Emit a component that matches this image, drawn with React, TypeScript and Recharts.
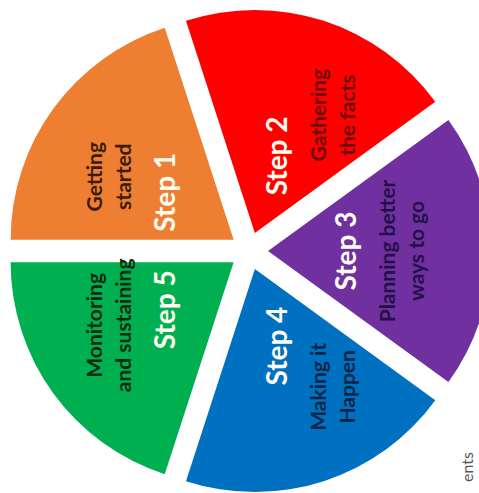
import { Cell, Pie, PieChart, Sector } from "recharts";

const steps = ["Step 1", "Step 2", "Step 3", "Step 4", "Step 5"];
const descriptions = [
  ["Getting", "started"],
  ["Gathering", "the facts"],
  ["Planning better", "ways to go"],
  ["Making it", "Happen"],
  ["Monitoring", "and sustaining"],
];
const shares = [1, 1, 1, 1, 1];

const sliceColors = ["#EE7E31", "#FF0000", "#7030A0", "#0070C0", "#00B050"];
const descColors = ["#3a1c08", "#6e0a0a", "#241048", "#0a2748", "#0a2a12"];

const data = steps.map((name, i) => ({ name, value: shares[i] }));

const RAD = Math.PI / 180;
const EXPLODE = 19;
const FONT = "Lato, 'Open Sans', sans-serif";

function ExplodedSector(props: any) {
  const { cx, cy, midAngle } = props;
  const dx = EXPLODE * Math.cos(-midAngle * RAD);
  const dy = EXPLODE * Math.sin(-midAngle * RAD);
  return <Sector {...props} cx={cx + dx} cy={cy + dy} stroke="none" />;
}

function StepLabel(props: any) {
  const { cx, cy, midAngle, index } = props;
  const cos = Math.cos(-midAngle * RAD);
  const sin = Math.sin(-midAngle * RAD);
  const sx = cx + 100 * cos - 4;
  const sy = cy + 100 * sin;
  const side = cos < -0.01 ? -1 : 1;
  const dxc = sx + side * 56;
  const dyc = sy + 45 * sin * Math.abs(sin);
  const lines = descriptions[index];
  return (
    <g>
      <text
        x={sx}
        y={sy}
        transform={`rotate(-90, ${sx}, ${sy})`}
        textAnchor="middle"
        dominantBaseline="central"
        fill="#fffdf2"
        fontFamily={FONT}
        fontWeight={700}
        fontSize={28}
      >
        {steps[index]}
      </text>
      {lines.map((line, k) => {
        const lx = dxc + (k - (lines.length - 1) / 2) * 29;
        return (
          <text
            key={k}
            x={lx}
            y={dyc}
            transform={`rotate(-90, ${lx}, ${dyc})`}
            textAnchor="middle"
            dominantBaseline="central"
            fill={descColors[index]}
            fontFamily={FONT}
            fontWeight={700}
            fontSize={21}
          >
            {line}
          </text>
        );
      })}
    </g>
  );
}

export default function App() {
  return (
    <div style={{ position: "absolute", left: 0, top: 0, width: 479, height: 493, background: "#fff" }}>
      <PieChart width={479} height={493}>
        <Pie
          data={data}
          dataKey="value"
          nameKey="name"
          cx={244}
          cy={246}
          outerRadius={223}
          startAngle={180}
          endAngle={-180}
          stroke="none"
          shape={ExplodedSector}
          label={StepLabel}
          labelLine={false}
          isAnimationActive={false}
        >
          {data.map((d, i) => (
            <Cell key={d.name} fill={sliceColors[i]} />
          ))}
        </Pie>
      </PieChart>
      <svg width={479} height={493} style={{ position: "absolute", left: 0, top: 0, pointerEvents: "none" }}>
        <text
          x={466}
          y={452}
          transform="rotate(-90, 466, 452)"
          textAnchor="end"
          dominantBaseline="central"
          fill="#555"
          fontFamily={FONT}
          fontSize={16}
        >
          ents
        </text>
      </svg>
    </div>
  );
}
